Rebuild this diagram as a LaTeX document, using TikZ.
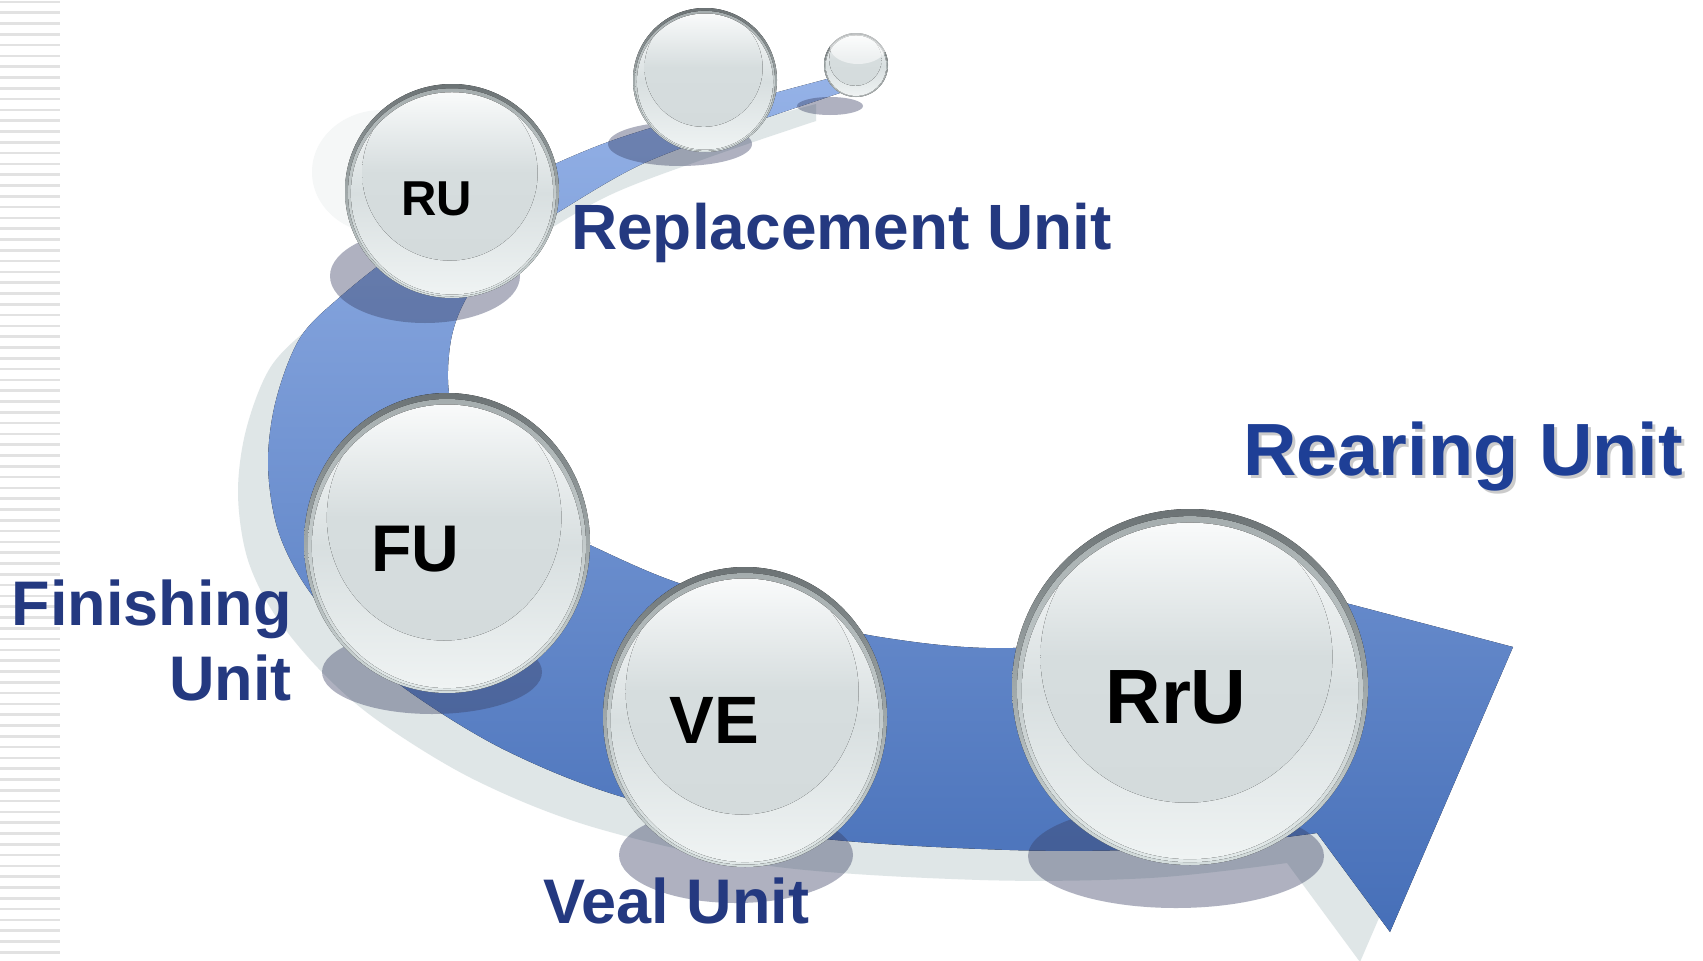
\documentclass[tikz,border=0pt]{standalone}
\usepackage{fontspec}
\setmainfont{Liberation Sans}
\definecolor{bandtop}{RGB}{149,178,231}
\definecolor{bandbot}{RGB}{70,111,184}
\definecolor{bandshadow}{RGB}{223,230,231}
\definecolor{shadowcol}{RGB}{55,62,98}
\definecolor{rimtop}{RGB}{108,115,117}
\definecolor{rimbot}{RGB}{212,221,221}
\definecolor{rimtwotop}{RGB}{165,173,174}
\definecolor{rimtwobot}{RGB}{226,233,233}
\definecolor{facetop}{RGB}{250,251,251}
\definecolor{facemid}{RGB}{216,223,224}
\definecolor{facebot}{RGB}{239,243,243}
\definecolor{innertop}{RGB}{252,253,253}
\definecolor{innermid}{RGB}{214,221,222}
\definecolor{innerbot}{RGB}{212,219,220}
\definecolor{navy}{RGB}{36,57,128}
\definecolor{rearblue}{RGB}{30,63,150}
\definecolor{stripecol}{RGB}{226,226,226}
\definecolor{ghostcol}{RGB}{245,247,247}
\newcommand\glassball[4]{%
 \begin{scope}[shift={(#1,#2)},x=#3pt,y=#4pt]
  \fill[top color=rimtop,bottom color=rimbot] (0,0) circle (1);
  \fill[top color=rimtwotop,bottom color=rimtwobot] (0,-0.012) circle (0.972);
  \fill[top color=facetop,bottom color=facebot,middle color=facemid] (0,-0.022) circle (0.945);
  \begin{scope}
   \clip (0,-0.022) circle (0.945);
   \fill[top color=innertop,bottom color=innerbot,middle color=innermid] (-0.02,0.17) circle (0.82);
  \end{scope}
 \end{scope}}
\tikzset{
 bandpath/.style={insert path={(846,-74) -- plot[smooth,tension=0.55] coordinates {(846,-74) (720,-108) (600,-145) (480,-200) (400,-250) (340,-297) (300,-338) (276,-400) (268,-463) (277,-527) (303,-582) (348,-638) (407,-690) (505,-750) (626,-798) (800,-836) (1010,-850) (1180,-848) (1317,-833)} -- (1390,-932) -- (1513,-647) -- (1300,-591) -- (1200,-628) -- plot[smooth,tension=0.55] coordinates {(1200,-628) (1013,-648) (880,-637) (770,-610) (670,-580) (590,-545) (530,-515) (480,-470) (455,-420) (448,-380) (452,-335) (467,-297) (500,-250) (557,-213) (640,-165) (740,-127) (846,-91)} -- cycle}},
 dropshadow/.style={fill=shadowcol, opacity=0.4},
 lab/.style={inner sep=0pt, text=navy, font=\fontsize{64}{70}\selectfont\bfseries},
 balltxt/.style={inner sep=0pt, text=black, anchor=base},
}
\begin{document}
\begin{tikzpicture}[x=1pt,y=1pt]
\useasboundingbox (0,0) rectangle (1703,-961);
\fill[white] (0,0) rectangle (1703,-961);
% background stripes
\foreach \i in {0,...,88} {\fill[stripecol] (0,{-\i*10.8-0.5}) rectangle (60,{-\i*10.8-3.2});}
% faint reflection
\fill[ghostcol] (382,-172) ellipse [x radius=70, y radius=62];
% band shadow and band
\fill[bandshadow, shift={(-30,-30)}, bandpath];
\fill[top color=bandtop, bottom color=bandbot, bandpath];
% sphere shadows
\fill[dropshadow] (425,-276) ellipse [x radius=95, y radius=47];
\fill[dropshadow] (432,-672) ellipse [x radius=110, y radius=42];
\fill[dropshadow] (736,-855) ellipse [x radius=117, y radius=48];
\fill[dropshadow] (1176,-856) ellipse [x radius=148, y radius=52];
\fill[dropshadow] (680,-144) ellipse [x radius=72, y radius=22];
\fill[dropshadow] (830,-106) ellipse [x radius=33, y radius=9];
% spheres
\glassball{705}{-80}{72}{72}
\glassball{856}{-65}{32}{32}
\fill[white, opacity=0.55] (858,-47) ellipse [x radius=28, y radius=17];
\glassball{452}{-191}{107}{107}
\glassball{447}{-543}{143}{150}
\glassball{745}{-717}{142}{150}
\glassball{1190}{-687}{178}{178}
% sphere labels
\node[balltxt, font=\fontsize{49}{50}\selectfont\bfseries] (ru) at (437,-215) {RU};
\node[balltxt, font=\fontsize{66}{70}\selectfont\bfseries] (fu) at (415,-571) {FU};
\node[balltxt, font=\fontsize{67}{70}\selectfont\bfseries] (ve) at (714,-743) {VE};
\node[balltxt, font=\fontsize{77}{80}\selectfont\bfseries] (rru) at (1176,-723) {RrU};
% unit labels
\node[lab, anchor=base west] (lru) at (571,-249) {Replacement Unit};
\node[lab, anchor=base east, font=\fontsize{63}{70}\selectfont\bfseries] (lfua) at (292,-625) {Finishing};
\node[lab, anchor=base east, font=\fontsize{63}{70}\selectfont\bfseries] (lfub) at (292,-700) {Unit};
\node[lab, anchor=base west, font=\fontsize{63}{70}\selectfont\bfseries] (lve) at (543,-923) {Veal Unit};
\node[lab, anchor=base west, text=black!40, opacity=0.5, font=\fontsize{74}{80}\selectfont\bfseries] (lrrus) at (1246,-478) {Rearing Unit};
\node[lab, anchor=base west, text=rearblue, font=\fontsize{74}{80}\selectfont\bfseries] (lrru) at (1243,-475) {Rearing Unit};
\end{tikzpicture}
\end{document}
